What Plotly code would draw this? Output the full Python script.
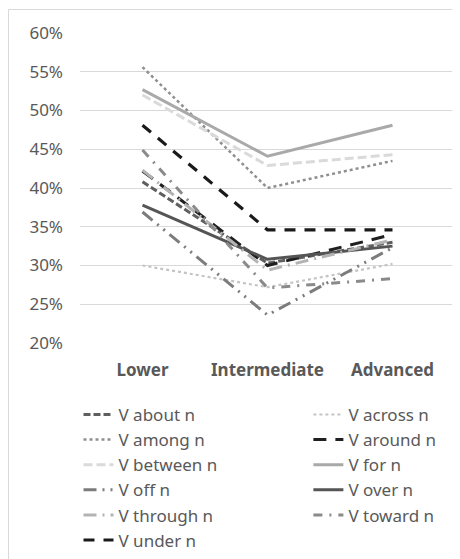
import plotly.graph_objects as go

levels = ["Lower", "Intermediate", "Advanced"]

v_about = [0.408, 0.303, 0.330]
v_across = [0.300, 0.272, 0.302]
v_among = [0.556, 0.400, 0.435]
v_around = [0.422, 0.300, 0.340]
v_between = [0.520, 0.429, 0.443]
v_for = [0.527, 0.441, 0.481]
v_off = [0.369, 0.236, 0.323]
v_over = [0.378, 0.308, 0.325]
v_through = [0.423, 0.294, 0.333]
v_toward = [0.449, 0.271, 0.283]
v_under = [0.481, 0.346, 0.346]

series_names = ["V about n", "V across n", "V among n", "V around n", "V between n",
                "V for n", "V off n", "V over n", "V through n", "V toward n", "V under n"]
series_values = [v_about, v_across, v_among, v_around, v_between,
                 v_for, v_off, v_over, v_through, v_toward, v_under]
series_colors = ["#5f5f5f", "#c4c4c4", "#8f8f8f", "#1f1f1f", "#dadada",
                 "#a9a9a9", "#7c7c7c", "#555555", "#b3b3b3", "#8a8a8a", "#1a1a1a"]
series_dash = ["7px,3px", "dot", "dot", "13px,9px", "9px,4px",
               "solid", "13px,6px,2px,6px,2px,6px", "solid", "13px,6px,2px,6px",
               "9px,7px,2px,7px", "11px,9px"]
series_width = [3, 2.2, 2.5, 3, 3, 3, 3, 3, 3, 3, 3.2]

font_family = "Noto Sans, Open Sans, DejaVu Sans, sans-serif"
FS = 17

# page body adds an 8px offset; margins compensate
L, R, T, B = 72, 13, 25, 224
PW = 460 - L - R
PH = 559 - T - B

fig = go.Figure()
for i, (name, vals, col, dash, w) in enumerate(zip(series_names, series_values,
                                                   series_colors, series_dash,
                                                   series_width)):
    fig.add_trace(go.Scatter(
        x=levels, y=vals, name=name, mode="lines",
        line=dict(color=col, dash=dash, width=w),
        legend="legend" if i % 2 == 0 else "legend2",
        legendgroup=name,
    ))

leg_common = dict(
    orientation="v", yanchor="top", xanchor="left",
    font=dict(size=FS, color="#595959", family=font_family),
    bgcolor="rgba(0,0,0,0)", tracegroupgap=0,
)

fig.update_layout(
    width=460, height=559,
    margin=dict(l=L, r=R, t=T, b=B, autoexpand=False),
    paper_bgcolor="white", plot_bgcolor="white",
    font=dict(family=font_family, size=FS, color="#595959"),
    showlegend=True,
    legend=dict(x=-0.004, y=-0.174, **leg_common),
    legend2=dict(x=0.609, y=-0.174, **leg_common),
    xaxis=dict(
        type="category", range=[-0.5, 2.5],
        showgrid=False, showline=False, zeroline=False,
        ticks="", tickfont=dict(size=FS, color="#595959", family=font_family,
                                weight="bold"),
        ticklabelstandoff=15,
    ),
    yaxis=dict(
        range=[0.2, 0.6], dtick=0.05, tick0=0.2, tickformat=".0%",
        showgrid=True, gridcolor="#d9d9d9", gridwidth=1,
        zeroline=False, showline=False, ticks="",
        tickfont=dict(size=FS, color="#595959"),
        ticklabelstandoff=16,
    ),
    shapes=[dict(
        type="rect", xref="paper", yref="paper",
        x0=(0.5 - L) / PW, x1=(480 - L) / PW,
        y0=-(600 - (559 - B)) / PH, y1=((559 - B) - 1.5) / PH,
        line=dict(color="#d9d9d9", width=1), fillcolor="rgba(0,0,0,0)",
        layer="below",
    )],
)

fig.write_html("out.html")
